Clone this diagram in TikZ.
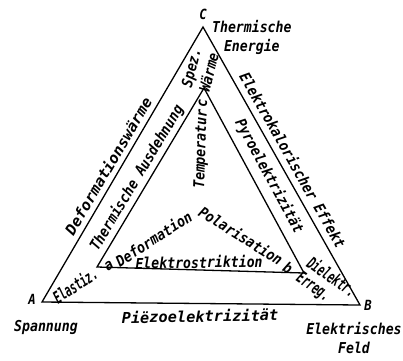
\documentclass[tikz,border=0pt]{standalone}
\usepackage{fontspec}
\usetikzlibrary{positioning}
\newfontfamily\lblfont{DejaVu Sans Mono}[FakeStretch=0.88]
\newfontfamily\widefont{DejaVu Sans Mono}[FakeStretch=1.02]
\newfontfamily\narrowfont{DejaVu Sans Mono}[FakeStretch=0.6]
\tikzset{
	side/.style      ={line width=1.3pt, line join=miter},
	lbl/.style       ={font=\lblfont\bfseries\itshape\fontsize{15}{18.5}\selectfont, inner sep=0pt, align=center},
	widelbl/.style   ={lbl, font=\widefont\bfseries\itshape\fontsize{15}{18.5}\selectfont},
	narrowlbl/.style ={lbl, font=\narrowfont\bfseries\itshape\fontsize{17}{18}\selectfont},
	vlbl/.style      ={lbl, font=\lblfont\bfseries\itshape\fontsize{14}{16}\selectfont},
}
\begin{document}
\begin{tikzpicture}[x=1pt, y=-1pt]
	\useasboundingbox (0,0) rectangle (403,360);
	% outer and inner triangle
	\coordinate (A) at (42,302); \coordinate (B) at (360,305); \coordinate (C) at (203,27);
	\coordinate (a) at (97,267); \coordinate (b) at (304,273); \coordinate (c) at (204,88);
	\draw[side] (A) -- (B) -- (C) -- cycle;
	\draw[side] (a) -- (b) -- (c) -- cycle;
	% corners
	\node[vlbl] (lC) at (203,14) {C};
	\node[lbl, right=9pt of lC.south east, anchor=north west, yshift=-1pt, xshift=-4pt] (energie) {Thermische\\Energie};
	\node[vlbl] (lA) at (32,299) {A};
	\node[lbl] (spannung) at (46,327) {Spannung};
	\node[vlbl] (lB) at (368,305) {B};
	\node[lbl] (feld) at (354,338) {Elektrisches\\Feld};
	% outer sides
	\node[widelbl, rotate=59.7] (dwaerme) at (108,166) {Deformationswärme};
	\node[lbl, rotate=-60.5] (ekal) at (293,160) {Elektrokalorischer Effekt};
	\node[widelbl, rotate=1] (piezo) at (200,316) {Piëzoelektrizität};
	% between the triangles
	\node[lbl, rotate=59] (ausd) at (137,178) {Thermische Ausdehnung};
	\node[lbl, rotate=-61.6] (pyro) at (269,176) {Pyroelektrizität};
	\node[lbl, rotate=76] (spez) at (200,70) {Spez.\\Wärme};
	\node[narrowlbl, rotate=33] (elastiz) at (75,285) {Elastiz.};
	\node[narrowlbl, rotate=-35, align=left] (dielektr) at (326,285) {Dielektr.\\Erreg.};
	% inner triangle
	\node[lbl, rotate=88] (lc) at (203,103) {c};
	\node[lbl, rotate=88] (temp) at (201.5,149) {Temperatur};
	\node[lbl, rotate=33] (la) at (109,266) {a};
	\node[lbl, rotate=33] (deform) at (153.5,238.5) {Deformation};
	\node[lbl, rotate=-32] (lb) at (288,268) {b};
	\node[lbl, rotate=-32] (polar) at (241,235.5) {Polarisation};
	\node[lbl, rotate=1] (estrikt) at (199,262) {Elektrostriktion};
\end{tikzpicture}
\end{document}
